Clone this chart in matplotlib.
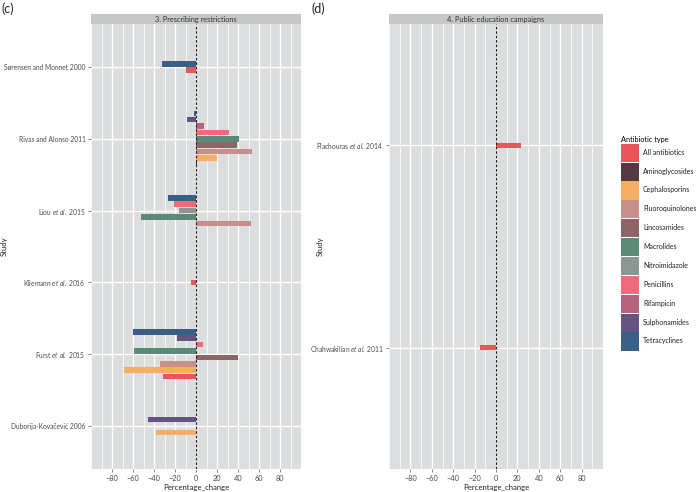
import numpy as np
import matplotlib
matplotlib.use("Agg")
import matplotlib.pyplot as plt
from matplotlib.patches import Patch
from matplotlib.ticker import MultipleLocator

plt.rcParams['font.family'] = ['Lato', 'DejaVu Sans']
plt.rcParams['mathtext.fontset'] = 'custom'
plt.rcParams['mathtext.rm'] = 'Lato'
plt.rcParams['mathtext.it'] = 'Lato:italic'

# ---------------- data ----------------
antibiotic_types = ["All antibiotics", "Aminoglycosides", "Cephalosporins", "Fluoroquinolones",
                    "Lincosamides", "Macrolides", "Nitroimidazole", "Penicillins",
                    "Rifampicin", "Sulphonamides", "Tetracyclines"]
type_colors = ["#e8555a", "#533b41", "#f6ae63", "#c6918c", "#8e6466", "#5b8a78",
               "#8c9795", "#ee6b7b", "#b5637f", "#655380", "#3a5f85"]

# panel (c): 3. Prescribing restrictions (listed top to bottom)
studies_c = ["Sørensen and Monnet 2000", "Rivas and Alonso 2011", r"Liou $\mathit{et\ al.}$ 2015",
             r"Kliemann $\mathit{et\ al.}$ 2016", r"Furst $\mathit{et\ al.}$ 2015", "Duborija-Kovačević 2006"]
c_study = [0, 0,
           1, 1, 1, 1, 1, 1, 1, 1, 1,
           2, 2, 2, 2, 2,
           3,
           4, 4, 4, 4, 4, 4, 4, 4,
           5, 5, 5]
c_type = ["All antibiotics", "Tetracyclines",
          "Aminoglycosides", "Cephalosporins", "Fluoroquinolones", "Lincosamides", "Macrolides",
          "Penicillins", "Rifampicin", "Sulphonamides", "Tetracyclines",
          "Fluoroquinolones", "Macrolides", "Nitroimidazole", "Penicillins", "Tetracyclines",
          "All antibiotics",
          "All antibiotics", "Cephalosporins", "Fluoroquinolones", "Lincosamides", "Macrolides",
          "Penicillins", "Sulphonamides", "Tetracyclines",
          "Cephalosporins", "Penicillins", "Sulphonamides"]
c_value = [-10, -32,
           1, 20, 53, 39, 40.5, 31, 8, -9, -2,
           52, -52, -16.5, -21, -27,
           -5,
           -31, -68.5, -34, 40, -59, 7, -18, -60,
           -38, np.nan, -46]

# panel (d): 4. Public education campaigns
studies_d = [r"Plachouras $\mathit{et\ al.}$ 2014", r"Chahwakilian $\mathit{et\ al.}$ 2011"]
d_study = [0, 1]
d_type = ["All antibiotics", "All antibiotics"]
d_value = [23.5, -15]

x_ticks = [-80, -60, -40, -20, 0, 20, 40, 60, 80]

# ---------------- styling ----------------
W, H = 696, 492
fig = plt.figure(figsize=(W / 100, H / 100), dpi=100)
panel_bg = "#dcdddf"
strip_bg = "#c8c8c8"
txt = "#4a4a4a"
slot_c = 0.089
barh_frac = 0.87


def px(x0, y0, x1, y1):
    return [x0 / W, 1 - y1 / H, (x1 - x0) / W, (y1 - y0) / H]


def draw_panel(rect, title, studies, s_idx, s_type, s_val, slot):
    ax = fig.add_axes(rect)
    n = len(studies)
    ypos = {i: n - i for i in range(n)}
    ax.set_facecolor(panel_bg)
    ax.set_xlim(-100, 100)
    ax.set_ylim(0.4, n + 0.6)
    ax.xaxis.set_major_locator(MultipleLocator(20))
    ax.xaxis.set_minor_locator(MultipleLocator(10))
    ax.set_xticks(x_ticks)
    ax.set_yticks([ypos[i] for i in range(n)])
    ax.set_yticklabels(studies)
    ax.grid(axis='x', which='major', color='white', lw=1.0, zorder=0)
    ax.grid(axis='x', which='minor', color='white', lw=0.55, zorder=0)
    ax.grid(axis='y', which='major', color='white', lw=1.0, zorder=0)
    ax.set_axisbelow(True)
    for sp in ax.spines.values():
        sp.set_visible(False)
    ax.tick_params(axis='both', which='major', length=2.5, width=0.5, color="#555555",
                   labelsize=5.3, labelcolor=txt, pad=1.5)
    ax.tick_params(axis='y', which='major', labelsize=4.8)
    ax.tick_params(axis='x', which='minor', length=0)
    for i in range(n):
        entries = [(antibiotic_types.index(t), v) for s, t, v in zip(s_idx, s_type, s_val) if s == i]
        entries.sort()
        m = len(entries)
        for k, (ti, v) in enumerate(entries):
            if np.isnan(v):
                continue
            y = ypos[i] + (k - (m - 1) / 2) * slot
            ax.barh(y, v, height=slot * barh_frac, color=type_colors[ti], lw=0, zorder=2)
    ax.axvline(0, color="#222222", lw=0.8, ls=(0, (2.5, 1.5)), zorder=3)
    ax.set_xlabel("Percentage_change", fontsize=5.6, color="#222222", labelpad=2)
    ax.set_ylabel("Study", fontsize=5.6, color="#222222", labelpad=3)
    # strip
    bb = ax.get_position()
    sax = fig.add_axes([bb.x0, bb.y1, bb.width, 10 / H])
    sax.set_facecolor(strip_bg)
    sax.set_xticks([]); sax.set_yticks([])
    for sp in sax.spines.values():
        sp.set_visible(False)
    sax.text(0.5, 0.45, title, ha='center', va='center', fontsize=5.3, color="#333333",
             transform=sax.transAxes)
    return ax


ax_c = draw_panel(px(91, 24, 301, 469), "3. Prescribing restrictions", studies_c,
                  c_study, c_type, c_value, slot_c)
ax_c.yaxis.set_label_coords(-0.397, 0.5)
ax_d = draw_panel(px(389, 24, 603, 469), "4. Public education campaigns", studies_d,
                  d_study, d_type, d_value, slot_c * (len(studies_d) + 0.2) / (len(studies_c) + 0.2))
ax_d.yaxis.set_label_coords(-0.305, 0.5)

fig.text(2 / W, 1 - 9 / H, "(c)", fontsize=9, color="#222222", va='center', ha='left')
fig.text(312 / W, 1 - 9 / H, "(d)", fontsize=9, color="#222222", va='center', ha='left')

handles = [Patch(facecolor=c, edgecolor='none') for c in type_colors]
leg = fig.legend(handles, antibiotic_types, loc='upper left', bbox_to_anchor=(621 / W, 1 - 136 / H),
                 frameon=False, fontsize=5.0, title="Antibiotic type", title_fontsize=5.3,
                 handlelength=2.6, handleheight=3.65, labelspacing=0.1, handletextpad=0.55,
                 borderpad=0.0, borderaxespad=0.0)
leg._legend_box.align = "left"
for t in leg.get_texts():
    t.set_color("#222222")

fig.savefig("out.png", dpi=100)
